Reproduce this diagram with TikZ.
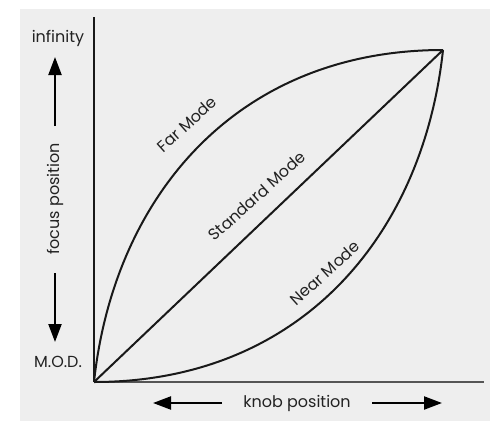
\documentclass[tikz,border=0pt]{standalone}
\usepackage{fontspec}
\setmainfont{Poppins}
\usetikzlibrary{arrows.meta}
\definecolor{bgray}{HTML}{EEEEEE}
\definecolor{axgray}{HTML}{555555}
\definecolor{txt}{HTML}{222222}
\begin{document}
\begin{tikzpicture}[x=1pt,y=-1pt,
  lbl/.style={text=txt,font=\fontsize{16}{18}\selectfont,inner sep=0pt},
  curve/.style={line width=2pt,draw=black!90},
  bigarrow/.style={line width=2.2pt,-{Triangle[length=18pt,width=13pt]}}]
\useasboundingbox (0,0) rectangle (490,421);
\fill[bgray] (20,9) rectangle (490,421);
\coordinate (O) at (94,382);
\coordinate (T) at (443,50);
\coordinate (Ytop) at (94,17);
\coordinate (Xend) at (484,382);
% axes
\draw[line width=2pt,axgray] (O) -- (Xend);
\draw[line width=2.4pt,black!90] (Ytop) -- (O);
% curves
\draw[curve] (O) .. controls (114,196) and (237,50) .. (T);
\draw[curve] (O) -- (T);
\draw[curve] (T) .. controls (423,236) and (300,382) .. (O);
% curve labels
\node[lbl,rotate=42] (far) at (187,124) {Far Mode};
\node[lbl,rotate=42] (std) at (257,196) {Standard Mode};
\node[lbl,rotate=42] (near) at (325,273) {Near Mode};
% y axis labels
\node[lbl] (inf) at (58,38) {infinity};
\node[lbl] (mod) at (58,361.5) {M.O.D.};
\node[lbl,rotate=90] (fp) at (55,199) {focus position};
\coordinate (ua) at (55,126);
\coordinate (ub) at (55,57);
\coordinate (da) at (55,273);
\coordinate (db) at (55,342);
\draw[bigarrow] (ua) -- (ub);
\draw[bigarrow] (da) -- (db);
% x axis labels
\node[lbl] (kp) at (297,403) {knob position};
\coordinate (la) at (222,403);
\coordinate (lb) at (153,403);
\coordinate (ra) at (372,403);
\coordinate (rb) at (442,403);
\draw[bigarrow] (la) -- (lb);
\draw[bigarrow] (ra) -- (rb);
\end{tikzpicture}
\end{document}
